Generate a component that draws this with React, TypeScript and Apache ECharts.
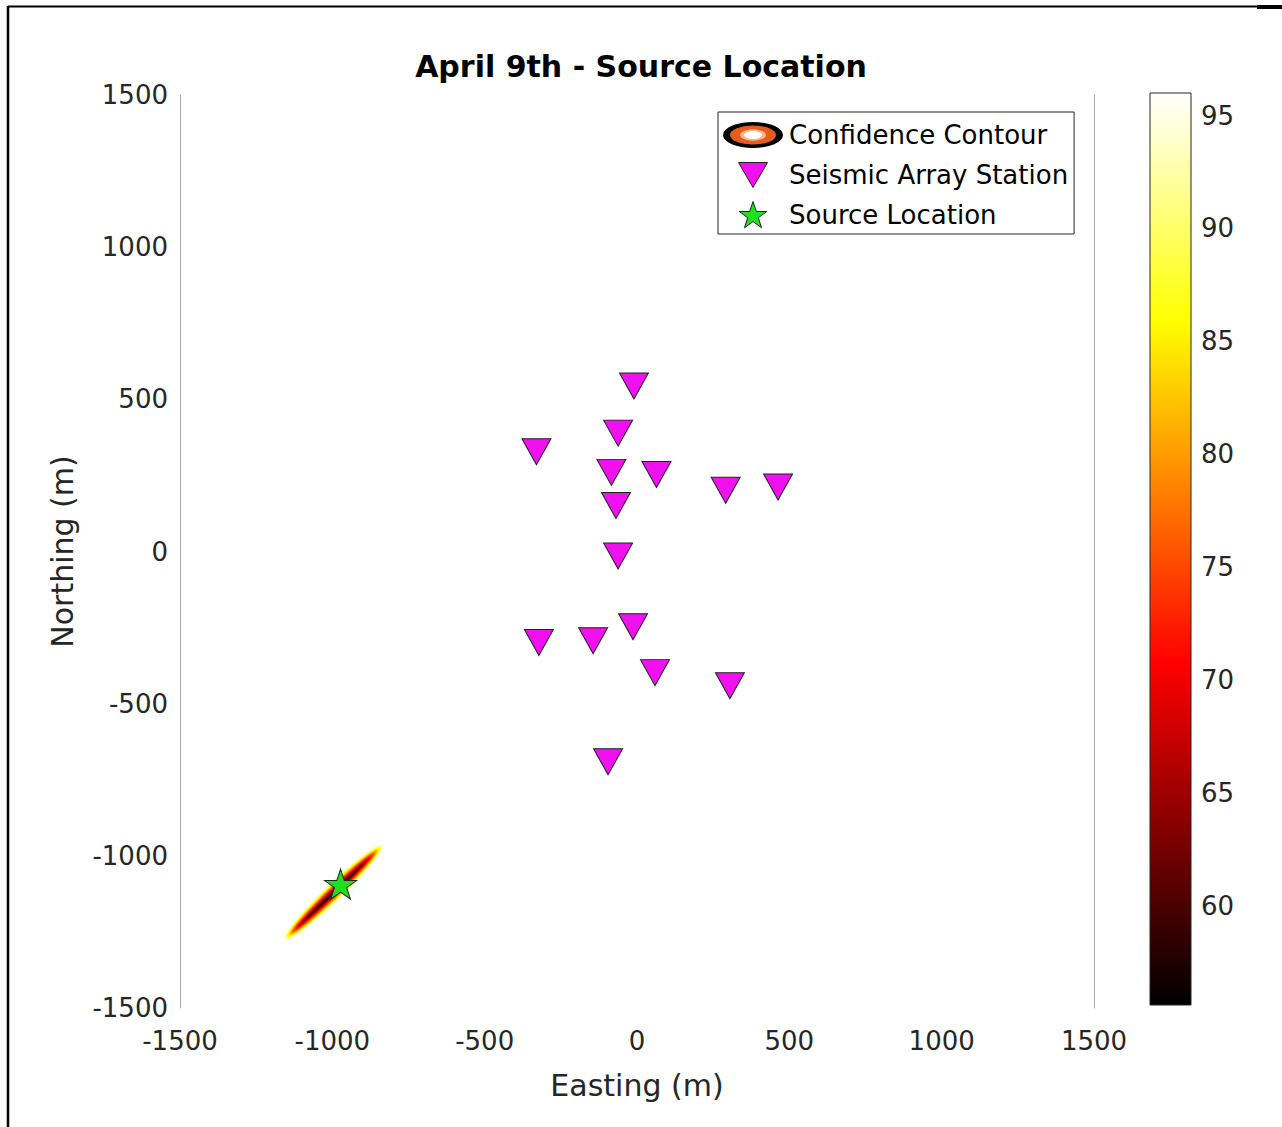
import React, { useEffect, useRef } from "react";
import * as echarts from "echarts";

// ---- Data ----
const STATION_EASTING = [-10, -62, -330, -84, 64, 291, 463, -69, -62, -13, -322, -144, 59, 305, -95];
const STATION_NORTHING = [544, 389, 328, 260, 253, 201, 212, 151, -15, -247, -299, -293, -398, -441, -691];
const SOURCE_LOCATION = [-973, -1093];

const CONTOUR_CENTER = [-996, -1120];
const CONTOUR_SEMI_MAJOR = 226;
const CONTOUR_SEMI_MINOR = 30;
const CONTOUR_ANGLE_DEG = 44;
const CONTOUR_LEVELS = [95.5, 94, 92, 90, 88, 86, 84, 82, 80, 78, 76, 74, 72, 70, 68, 66, 64, 62, 60, 58, 57];

const CB_MIN = 55.6;
const CB_MAX = 96;
const CB_TICKS = [60, 65, 70, 75, 80, 85, 90, 95];

const AXIS_MIN = -1500;
const AXIS_MAX = 1500;
const AXIS_INTERVAL = 500;

const TITLE = "April 9th - Source Location";
const X_NAME = "Easting (m)";
const Y_NAME = "Northing (m)";
const LEGEND_NAMES = ["Confidence Contour", "Seismic Array Station", "Source Location"];

const FONT = "DejaVu Sans";
const TEXT_COLOR = "#262626";
const MAGENTA = "#f010f0";
const GREEN = "#1fe01f";

function hot(s: number): string {
  const c = (v: number) => Math.max(0, Math.min(1, v));
  const r = c(s / 0.375);
  const g = c((s - 0.375) / 0.375);
  const b = c((s - 0.75) / 0.25);
  const h = (v: number) => Math.round(v * 255).toString(16).padStart(2, "0");
  return "#" + h(r) + h(g) + h(b);
}

function starPoints(cx: number, cy: number, R: number, r: number): number[][] {
  const pts: number[][] = [];
  for (let k = 0; k < 10; k++) {
    const ang = -Math.PI / 2 + (k * Math.PI) / 5;
    const rad = k % 2 === 0 ? R : r;
    pts.push([cx + rad * Math.cos(ang), cy + rad * Math.sin(ang)]);
  }
  return pts;
}

const starPath =
  "path://" +
  starPoints(50, 50, 50, 19.1)
    .map((p, i) => (i === 0 ? "M" : "L") + p[0].toFixed(2) + " " + p[1].toFixed(2))
    .join(" ") +
  " Z";

function svgUrl(body: string): string {
  const svg = `<svg xmlns="http://www.w3.org/2000/svg" width="62" height="28" viewBox="0 0 62 28">${body}</svg>`;
  return "image://data:image/svg+xml;charset=utf-8," + encodeURIComponent(svg);
}

const ICON_CONTOUR = svgUrl(
  `<ellipse cx="31" cy="14" rx="30" ry="13" fill="#000"/>` +
    `<ellipse cx="31" cy="14" rx="23" ry="9.5" fill="#e65c1e"/>` +
    `<ellipse cx="31" cy="14" rx="13" ry="5.8" fill="#ffb584"/>` +
    `<ellipse cx="31" cy="14" rx="9" ry="4" fill="#fff"/>`
);
const ICON_TRIANGLE = svgUrl(
  `<polygon points="16.5,1.5 45.5,1.5 31,26.5" fill="${MAGENTA}" stroke="#222" stroke-width="1"/>`
);
const ICON_STAR = svgUrl(
  `<polygon points="${starPoints(31, 15, 14.5, 5.6)
    .map((p) => p[0].toFixed(2) + "," + p[1].toFixed(2))
    .join(" ")}" fill="${GREEN}" stroke="#222" stroke-width="1"/>`
);

const plain = (v: number) => String(v);

export default function App() {
  const ref = useRef<HTMLDivElement>(null);

  useEffect(() => {
    if (!ref.current) return;
    const chart = echarts.init(ref.current, null, { renderer: "svg" });

    const stationData = STATION_EASTING.map((e, i) => [e, STATION_NORTHING[i]]);

    const option: any = {
      animation: false,
      backgroundColor: "#fff",
      title: {
        text: TITLE,
        left: "center",
        top: 46,
        textStyle: { fontFamily: FONT, fontSize: 30, fontWeight: "bold", color: "#000" },
      },
      legend: {
        orient: "vertical",
        left: 718,
        top: 112,
        padding: [9, 6, 5, 4],
        itemGap: 12,
        itemWidth: 62,
        itemHeight: 28,
        borderColor: "#262626",
        borderWidth: 1,
        backgroundColor: "#fff",
        selectedMode: false,
        textStyle: { fontFamily: FONT, fontSize: 26, color: "#000" },
        data: [
          { name: LEGEND_NAMES[0], icon: ICON_CONTOUR },
          { name: LEGEND_NAMES[1], icon: ICON_TRIANGLE },
          { name: LEGEND_NAMES[2], icon: ICON_STAR },
        ],
      },
      grid: [
        { left: 180, top: 95, width: 914, height: 913 },
        { left: 1150, top: 93, width: 41, height: 912 },
      ],
      xAxis: [
        {
          type: "value",
          gridIndex: 0,
          min: AXIS_MIN,
          max: AXIS_MAX,
          interval: AXIS_INTERVAL,
          name: X_NAME,
          nameLocation: "middle",
          nameGap: 62,
          nameTextStyle: { fontFamily: FONT, fontSize: 30, color: TEXT_COLOR },
          axisLine: { show: false, onZero: false },
          axisTick: { show: false },
          splitLine: { show: false },
          axisLabel: { fontFamily: FONT, fontSize: 26, color: TEXT_COLOR, margin: 20, formatter: plain },
        },
        { type: "value", gridIndex: 1, min: 0, max: 1, show: false },
      ],
      yAxis: [
        {
          type: "value",
          gridIndex: 0,
          position: "left",
          min: AXIS_MIN,
          max: AXIS_MAX,
          interval: AXIS_INTERVAL,
          name: Y_NAME,
          nameLocation: "middle",
          nameGap: 103,
          nameTextStyle: { fontFamily: FONT, fontSize: 30, color: TEXT_COLOR },
          axisLine: { show: true, onZero: false, lineStyle: { color: "#a8a8a8", width: 1 } },
          axisTick: { show: false },
          splitLine: { show: false },
          axisLabel: { fontFamily: FONT, fontSize: 26, color: TEXT_COLOR, margin: 12, formatter: plain },
        },
        {
          type: "value",
          gridIndex: 0,
          position: "right",
          min: AXIS_MIN,
          max: AXIS_MAX,
          interval: AXIS_INTERVAL,
          axisLine: { show: true, onZero: false, lineStyle: { color: "#a8a8a8", width: 1 } },
          axisTick: { show: false },
          splitLine: { show: false },
          axisLabel: { show: false },
        },
        {
          type: "value",
          gridIndex: 1,
          position: "right",
          min: CB_MIN,
          max: CB_MAX,
          axisLine: { show: false, onZero: false },
          splitLine: { show: false },
          axisTick: {
            show: true,
            inside: true,
            length: 6,
            customValues: CB_TICKS,
            lineStyle: { color: "#262626", width: 1 },
          },
          axisLabel: {
            customValues: CB_TICKS,
            fontFamily: FONT,
            fontSize: 26,
            color: TEXT_COLOR,
            margin: 10,
          },
        },
      ],
      series: [
        {
          name: LEGEND_NAMES[0],
          type: "custom",
          xAxisIndex: 0,
          yAxisIndex: 0,
          z: 1,
          data: [CONTOUR_CENTER],
          renderItem: (params: any, api: any) => {
            const cx = api.value(0);
            const cy = api.value(1);
            const th = (CONTOUR_ANGLE_DEG * Math.PI) / 180;
            const children = CONTOUR_LEVELS.map((v) => {
              const s = (v - CB_MIN) / (CB_MAX - CB_MIN);
              const a = CONTOUR_SEMI_MAJOR * Math.pow(s, 0.3);
              const b = CONTOUR_SEMI_MINOR * Math.pow(s, 1.0);
              const pts: number[][] = [];
              for (let k = 0; k < 90; k++) {
                const t = (2 * Math.PI * k) / 90;
                const ex = a * Math.cos(t);
                const ey = b * Math.sin(t);
                const x = cx + ex * Math.cos(th) - ey * Math.sin(th);
                const y = cy + ex * Math.sin(th) + ey * Math.cos(th);
                pts.push(api.coord([x, y]));
              }
              return { type: "polygon", shape: { points: pts }, style: { fill: hot(s), stroke: null } };
            });
            return { type: "group", children };
          },
        },
        {
          name: LEGEND_NAMES[1],
          type: "scatter",
          xAxisIndex: 0,
          yAxisIndex: 0,
          z: 3,
          symbol: "triangle",
          symbolRotate: 180,
          symbolSize: [29, 26],
          itemStyle: { color: MAGENTA, borderColor: "#222", borderWidth: 1, opacity: 1 },
          data: stationData,
        },
        {
          name: LEGEND_NAMES[2],
          type: "scatter",
          xAxisIndex: 0,
          yAxisIndex: 0,
          z: 4,
          symbol: starPath,
          symbolSize: [32, 30],
          itemStyle: { color: GREEN, borderColor: "#222", borderWidth: 1, opacity: 1 },
          data: [SOURCE_LOCATION],
        },
        {
          type: "custom",
          xAxisIndex: 1,
          yAxisIndex: 2,
          z: 2,
          data: [[0, CB_MIN, CB_MAX]],
          renderItem: (params: any, api: any) => {
            const p0 = api.coord([0, api.value(2)]);
            const p1 = api.coord([1, api.value(1)]);
            return {
              type: "rect",
              shape: { x: p0[0], y: p0[1], width: p1[0] - p0[0], height: p1[1] - p0[1] },
              style: {
                fill: new echarts.graphic.LinearGradient(0, 0, 0, 1, [
                  { offset: 0, color: "#ffffff" },
                  { offset: 0.25, color: "#ffff00" },
                  { offset: 0.625, color: "#ff0000" },
                  { offset: 1, color: "#000000" },
                ]),
                stroke: "#262626",
                lineWidth: 1,
              },
            };
          },
        },
      ],
      graphic: [
        { type: "line", shape: { x1: 8, y1: 6, x2: 8, y2: 1127 }, style: { stroke: "#000", lineWidth: 2.5 } },
        { type: "line", shape: { x1: 8, y1: 6.5, x2: 1258, y2: 6.5 }, style: { stroke: "#000", lineWidth: 2 } },
        { type: "line", shape: { x1: 1257, y1: 7, x2: 1282, y2: 7 }, style: { stroke: "#000", lineWidth: 4 } },
      ],
    };

    chart.setOption(option);
    return () => chart.dispose();
  }, []);

  return (
    <div
      ref={ref}
      style={{ position: "absolute", left: 0, top: 0, width: 1282, height: 1127, background: "#fff" }}
    />
  );
}
